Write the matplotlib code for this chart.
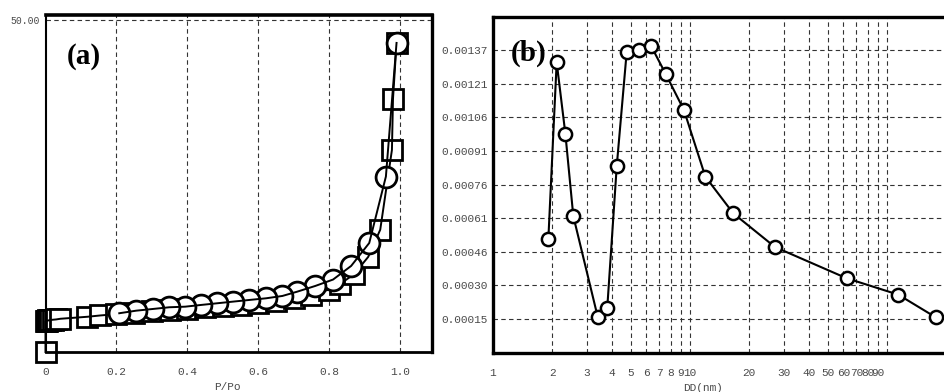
import matplotlib.pyplot as plt
import numpy as np
from matplotlib.ticker import FixedLocator, FixedFormatter, NullLocator

# (a) N2 isotherm: adsorption (squares) and desorption (circles)
p_ads = [0.0, 0.0, 0.004, 0.008, 0.013, 0.02, 0.03, 0.042, 0.118, 0.155,
         0.2, 0.25, 0.3, 0.35, 0.4, 0.45, 0.5, 0.55, 0.6, 0.65, 0.7, 0.75,
         0.8, 0.83, 0.87, 0.91, 0.944, 0.977, 0.98, 0.99]
v_ads = [0.0, 4.6, 4.7, 4.75, 4.8, 4.85, 4.9, 5.0, 5.3, 5.5,
         5.7, 5.9, 6.1, 6.3, 6.5, 6.7, 6.9, 7.1, 7.4, 7.7, 8.1, 8.6,
         9.4, 10.2, 11.7, 14.3, 18.4, 30.4, 38.1, 46.5]
p_des = [0.99, 0.96, 0.913, 0.862, 0.811, 0.761, 0.71, 0.668, 0.622, 0.575,
         0.529, 0.484, 0.439, 0.394, 0.349, 0.304, 0.256, 0.208]
v_des = [46.5, 26.4, 16.4, 12.95, 10.9, 9.94, 9.08, 8.43, 8.08, 7.83,
         7.58, 7.33, 7.08, 6.82, 6.73, 6.48, 6.22, 5.83]

# (b) pore size distribution
dd = [1.91, 2.105, 2.33, 2.556, 3.40, 3.80, 4.25, 4.77, 5.51, 6.36,
      7.55, 9.32, 11.96, 16.59, 27.0, 62.4, 114.1, 177.3]
dv = [0.000515, 0.001311, 0.000988, 0.000617, 0.000162, 0.000200, 0.000845,
      0.001356, 0.001368, 0.001383, 0.001256, 0.001095, 0.000795, 0.000629,
      0.000477, 0.000336, 0.000262, 0.000159]

b_ymax = 0.0015177
b_yticks = [b_ymax * k / 10 for k in range(1, 10)]
b_xlabels = [1, 2, 3, 4, 5, 6, 7, 8, 9, 10, 20, 30, 40, 50, 60, 70, 80, 90]
b_xgrid = [2, 3, 4, 5, 6, 7, 8, 9, 10, 20, 30, 40, 50, 60, 70, 80, 90, 100, 200]

mono = 'Liberation Mono'
tcol = '#4a4a4a'
gridkw = dict(color='#333333', lw=0.8, ls=(0, (4, 3)))

fig = plt.figure(figsize=(9.44, 3.92), dpi=100)

# ---------- (a) ----------
ax = fig.add_axes([45.5 / 944, 40 / 392, 386.5 / 944, 337 / 392])
ax.set_xlim(0, 1.09)
ax.set_ylim(0, 50.7)
for xg in [0.2, 0.4, 0.6, 0.8, 1.0]:
    ax.axvline(xg, zorder=0, **gridkw)
ax.axhline(50, zorder=0, **gridkw)

ax.plot(p_ads, v_ads, ls='none', marker='s', ms=14.5, mfc='white', mec='black',
        mew=2.0, zorder=2, clip_on=False)
ax.plot(p_ads, v_ads, color='black', lw=1.4, zorder=3, clip_on=False)
ax.plot(p_des, v_des, ls='none', marker='o', ms=15, mfc='white', mec='black',
        mew=2.0, zorder=4, clip_on=False)
ax.plot(p_des, v_des, color='black', lw=1.4, zorder=5, clip_on=False)

ax.xaxis.set_major_locator(FixedLocator([0, 0.2, 0.4, 0.6, 0.8, 1.0]))
ax.xaxis.set_major_formatter(FixedFormatter(['0', '0.2', '0.4', '0.6', '0.8', '1.0']))
ax.yaxis.set_major_locator(FixedLocator([50]))
ax.yaxis.set_major_formatter(FixedFormatter(['50.00']))
ax.tick_params(axis='x', length=0, pad=11, labelsize=8, labelcolor=tcol)
ax.tick_params(axis='y', length=0, pad=4, labelsize=7, labelcolor=tcol)
for lab in ax.get_xticklabels() + ax.get_yticklabels():
    lab.set_family(mono)
ax.set_xlabel('P/Po', family=mono, fontsize=8, color=tcol)
ax.xaxis.set_label_coords(0.47, -0.104)
ax.xaxis.label.set_va('center')
ax.spines['top'].set_linewidth(2.6)
ax.spines['right'].set_linewidth(2.4)
ax.spines['left'].set_linewidth(1.5)
ax.spines['bottom'].set_linewidth(2.0)
ax.text(67 / 944, 1 - 56 / 392, '(a)', transform=fig.transFigure, ha='left',
        va='center', family='Liberation Serif', weight='bold', fontsize=21)

# ---------- (b) ----------
bx = fig.add_axes([493 / 944, 39.3 / 392, 591 / 944, 336.2 / 392])
bx.set_xscale('log')
bx.set_xlim(1, 1000)
bx.set_ylim(0, b_ymax)
for xg in b_xgrid:
    bx.axvline(xg, zorder=0, **gridkw)
for yg in b_yticks:
    bx.axhline(yg, zorder=0, **gridkw)

bx.plot(dd, dv, color='black', lw=1.5, marker='o', ms=9.5, mfc='white',
        mec='black', mew=1.8, zorder=3)

bx.xaxis.set_major_locator(FixedLocator(b_xlabels))
bx.xaxis.set_major_formatter(FixedFormatter([str(v) for v in b_xlabels]))
bx.xaxis.set_minor_locator(NullLocator())
bx.yaxis.set_major_locator(FixedLocator(b_yticks))
bx.yaxis.set_major_formatter(FixedFormatter(['%.5f' % v for v in b_yticks]))
bx.tick_params(axis='x', length=0, pad=11, labelsize=8, labelcolor=tcol)
bx.tick_params(axis='y', length=0, pad=4, labelsize=8, labelcolor=tcol)
for lab in bx.get_xticklabels() + bx.get_yticklabels():
    lab.set_family(mono)
bx.set_xlabel('DD(nm)', family=mono, fontsize=8, color=tcol)
bx.xaxis.set_label_coords(0.355, -0.105)
bx.xaxis.label.set_va('center')
for s in ['top', 'left', 'bottom']:
    bx.spines[s].set_linewidth(2.4)
bx.spines['right'].set_visible(False)
bx.text(511 / 944, 1 - 53 / 392, '(b)', transform=fig.transFigure, ha='left',
        va='center', family='Liberation Serif', weight='bold', fontsize=21)

fig.savefig('out.png', dpi=100)
